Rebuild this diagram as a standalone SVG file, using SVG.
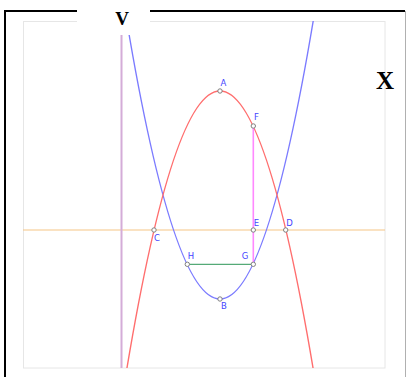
<svg xmlns="http://www.w3.org/2000/svg" width="407" height="377" viewBox="0 0 407 377">
<style>
.pt{fill:#ffffff;stroke:#808080;stroke-width:1}
.lbl{font-family:"DejaVu Sans",sans-serif;font-size:8.5px;fill:#4444ff;text-anchor:middle;dominant-baseline:central}
.big{font-family:"Liberation Serif",serif;font-weight:bold;fill:#000;text-anchor:middle}
</style>
<defs>
<clipPath id="plot"><rect x="23" y="21" width="362" height="347"/></clipPath>
</defs>
<rect width="407" height="377" fill="#ffffff"/>
<g id="frame">
<path d="M5,377 V11 H405" fill="none" stroke="#000" stroke-width="2"/>
<line x1="405.5" y1="11" x2="405.5" y2="377" stroke="#b0b0b0" stroke-width="1"/>
<rect x="23.5" y="21.5" width="361.5" height="346.5" fill="none" stroke="#e6e6e6" stroke-width="1"/>
</g>
<g id="connectors" clip-path="url(#plot)" fill="none">
<line x1="23" y1="230" x2="385" y2="230" stroke="#f5c585" stroke-width="1.2"/>
<line x1="121.5" y1="21" x2="121.5" y2="368" stroke="#d4acd8" stroke-width="2"/>
<path id="blue" d="M110.5,-84.7 Q220,682.7 329.5,-84.7" stroke="#7b7bff" stroke-width="1.4"/>
<path id="red" d="M112,464.2 Q220,-282.2 328,464.2" stroke="#ff6e6e" stroke-width="1.4"/>
<line x1="253.3" y1="126" x2="253.3" y2="264.3" stroke="#ff88ff" stroke-width="1.6"/>
<line x1="187.3" y1="264.3" x2="253.3" y2="264.3" stroke="#55aa77" stroke-width="1.3"/>
</g>
<g id="cover">
<rect x="77" y="0" width="73" height="35" fill="#ffffff"/>
</g>
<g id="V"><text class="big" x="122" y="25" font-size="19">V</text></g>
<g id="X"><text class="big" x="385" y="89" font-size="25">X</text></g>
<g id="A"><circle class="pt" cx="220" cy="91" r="2.2"/><text class="lbl" x="223.5" y="83">A</text></g>
<g id="F"><circle class="pt" cx="253.3" cy="126" r="2.2"/><text class="lbl" x="256.5" y="117">F</text></g>
<g id="E"><circle class="pt" cx="253.3" cy="230" r="2.2"/><text class="lbl" x="256.5" y="222.5">E</text></g>
<g id="D"><circle class="pt" cx="285.7" cy="230" r="2.2"/><text class="lbl" x="289.5" y="222.5">D</text></g>
<g id="C"><circle class="pt" cx="154" cy="230" r="2.2"/><text class="lbl" x="157" y="237.5">C</text></g>
<g id="H"><circle class="pt" cx="187.3" cy="264.3" r="2.2"/><text class="lbl" x="191" y="256">H</text></g>
<g id="G"><circle class="pt" cx="253.3" cy="264.3" r="2.2"/><text class="lbl" x="245" y="256">G</text></g>
<g id="B"><circle class="pt" cx="220" cy="299" r="2.2"/><text class="lbl" x="224" y="305.5">B</text></g>
</svg>
